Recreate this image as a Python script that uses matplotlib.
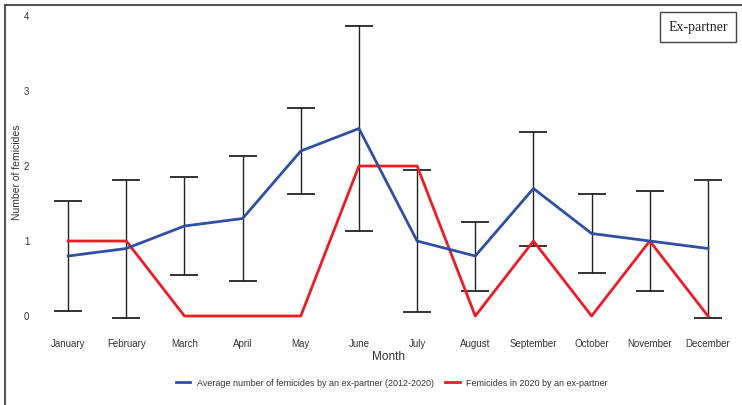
import numpy as np
import matplotlib
matplotlib.use("Agg")
import matplotlib.pyplot as plt
from matplotlib.lines import Line2D

plt.rcParams['font.family'] = ['Liberation Sans', 'DejaVu Sans']

# data
months = ["January", "February", "March", "April", "May", "June",
          "July", "August", "September", "October", "November", "December"]
avg_ex = [0.8, 0.9, 1.2, 1.3, 2.2, 2.5, 1.0, 0.8, 1.7, 1.1, 1.0, 0.9]
err_ex = [0.73, 0.92, 0.65, 0.83, 0.57, 1.37, 0.95, 0.46, 0.76, 0.53, 0.67, 0.92]
fem_2020 = [1, 1, 0, 0, 0, 2, 2, 0, 1, 0, 1, 0]
yticks = [0, 1, 2, 3, 4]

blue = "#2f4fa2"
red = "#ec1c24"
txt = "#333333"

fig = plt.figure(figsize=(7.42, 4.05), dpi=100)
ax = fig.add_axes([0.0526, 0.1827, 0.9407, 0.8148])

x = np.arange(len(months))

# error bars first so the lines sit on top
ax.errorbar(x, avg_ex, yerr=err_ex, fmt='none', ecolor='#222222',
            elinewidth=1.0, capsize=10, capthick=1.3, zorder=1)
ax.plot(x, avg_ex, color=blue, lw=2,
        label="Average number of femicides by an ex-partner (2012-2020)", zorder=3)
ax.plot(x, fem_2020, color=red, lw=2,
        label="Femicides in 2020 by an ex-partner", zorder=2)

ax.set_xlim(-0.5, 11.5)
ax.set_ylim(-0.2, 4.2)
ax.set_xticks(x)
ax.set_xticklabels(months, fontsize=7, color=txt)
ax.set_yticks(yticks)
ax.set_yticklabels([str(t) for t in yticks], fontsize=7, color=txt)
ax.tick_params(length=0)
ax.tick_params(axis='x', pad=6)
ax.tick_params(axis='y', pad=7)
for s in ax.spines.values():
    s.set_visible(False)

ax.set_xlabel("Month", fontsize=8.5, color=txt, labelpad=1)
ax.set_ylabel("Number of femicides", fontsize=7.5, color=txt)
ax.yaxis.set_label_coords(-0.025, 0.48)

fig.legend(loc='center', bbox_to_anchor=(0.528, 0.054), ncol=2, frameon=False,
           fontsize=6.5, handlelength=1.6, columnspacing=1.3, handletextpad=0.7,
           labelcolor=txt)

# border lines on top and left of the figure
fig.add_artist(Line2D([5 / 742, 1], [1 - 5 / 405, 1 - 5 / 405],
                      transform=fig.transFigure, color='#555555', lw=1.5))
fig.add_artist(Line2D([5 / 742, 5 / 742], [0, 1 - 5 / 405],
                      transform=fig.transFigure, color='#555555', lw=1.5))

fig.text(698 / 742, 1 - 27 / 405, "Ex-partner", family='Liberation Serif',
         fontsize=10, ha='center', va='center', color='#222222',
         bbox=dict(boxstyle='square,pad=0.6', fc='white', ec='#444444', lw=1))

fig.savefig("out.png", dpi=100)
